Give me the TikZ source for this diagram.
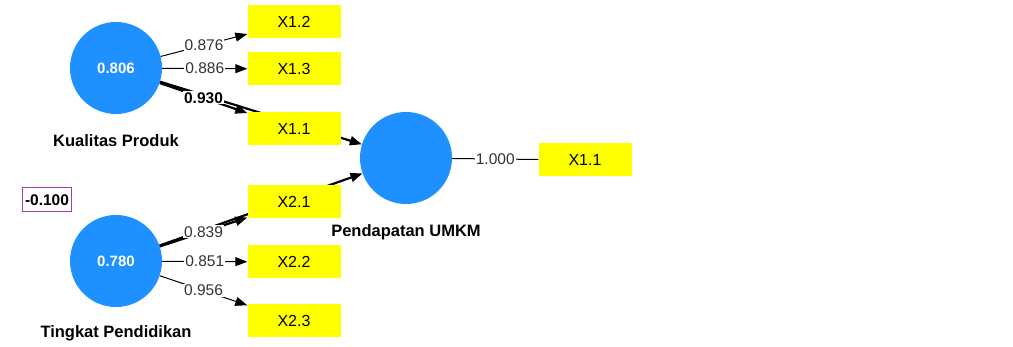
\documentclass[tikz,border=0pt]{standalone}
\usepackage{fontspec}
\setmainfont{Liberation Sans}
\usetikzlibrary{arrows.meta}
\definecolor{lvblue}{RGB}{30,144,255}
\definecolor{indyel}{RGB}{255,255,0}
\definecolor{rpurple}{RGB}{170,60,170}
\begin{document}
\begin{tikzpicture}[x=1pt,y=-1pt,
  latent/.style={circle,fill=lvblue,draw=none,minimum size=92pt,inner sep=0pt,text=white,font=\bfseries\fontsize{15}{17}\selectfont},
  indic/.style={rectangle,fill=indyel,draw=none,minimum width=93pt,minimum height=33pt,inner sep=0pt,font=\fontsize{16}{18}\selectfont},
  lvname/.style={font=\bfseries\fontsize{16.5}{19}\selectfont,inner sep=1pt},
  wt/.style={fill=white,inner sep=1pt,font=\fontsize{15.5}{17}\selectfont,text=black!80},
  wtb/.style={fill=white,inner sep=1pt,font=\bfseries\fontsize{15.5}{17}\selectfont},
  arr/.style={-{Triangle[length=12pt,width=9pt]},line width=1pt},
  arrb/.style={-{Triangle[length=12pt,width=9pt]},line width=2.2pt},
  ln/.style={line width=1pt},
  r2box/.style={draw=rpurple,line width=1pt,inner sep=2.5pt,minimum height=24pt,font=\bfseries\fontsize{15.5}{17}\selectfont}]
\useasboundingbox (0,0) rectangle (1013,347);
\fill[white] (0,0) rectangle (1013,347);
% latent variables
\node[latent] (kp) at (116,68) {0.806};
\node[latent] (tp) at (116,261) {0.780};
\node[latent] (pu) at (406,158) {};
% structural paths (behind boxes)
\draw[arrb] (kp) -- (pu);
\draw[arrb] (tp) -- (pu);
% indicators
\node[indic] (x12) at (294,22) {X1.2};
\node[indic] (x13) at (294,69) {X1.3};
\node[indic] (x11) at (294,129) {X1.1};
\node[indic] (x21) at (294,202) {X2.1};
\node[indic] (x22) at (294,262) {X2.2};
\node[indic] (x23) at (294,321) {X2.3};
\node[indic] (y11) at (585,160) {X1.1};
% loadings
\draw[arr] (kp) -- node[wt]{0.876} (x12);
\draw[arr] (kp) -- node[wt]{0.886} (x13);
\draw[arrb] (kp) -- node[wtb]{0.930} (x11);
\draw[arrb] (tp) -- node[wt]{0.839} (x21);
\draw[arr] (tp) -- node[wt]{0.851} (x22);
\draw[arr] (tp) -- node[wt]{0.956} (x23);
\draw[ln] (pu) -- node[wt]{1.000} (y11);
% names
\node[lvname] (kpn) at (116,141) {Kualitas Produk};
\node[lvname] (tpn) at (116,333) {Tingkat Pendidikan};
\node[lvname] (pun) at (406,232) {Pendapatan UMKM};
\node[r2box] (r2) at (47,200) {-0.100};
\end{tikzpicture}
\end{document}
